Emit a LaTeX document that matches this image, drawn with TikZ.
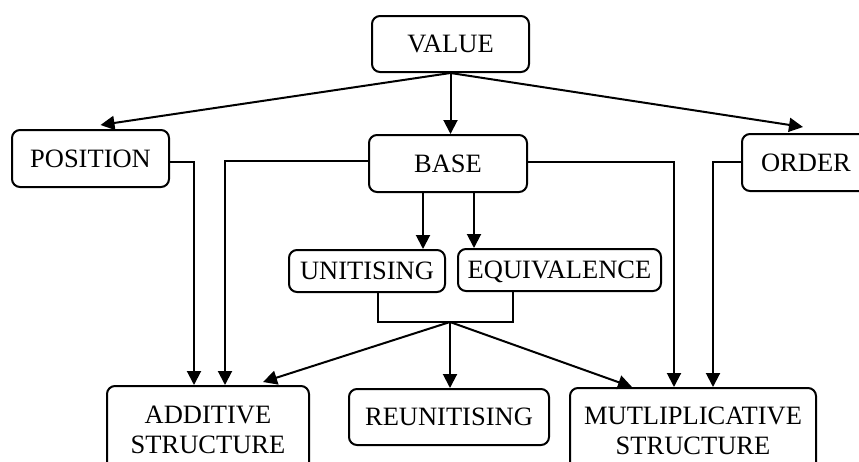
\documentclass[tikz,border=0pt]{standalone}
\usepackage{fontspec}
\setmainfont{Liberation Serif}
\usetikzlibrary{arrows.meta,positioning}
\tikzset{
  concept/.style={draw,line width=2pt,rounded corners=8pt,inner sep=0pt,align=center,font=\fontsize{26.5}{30}\selectfont},
  link/.style={line width=2pt},
  arr/.style={link,-{Triangle[length=14pt,width=14pt]}}
}
\begin{document}
\begin{tikzpicture}[x=1pt,y=-1pt]
\useasboundingbox (0,0) rectangle (859,461);
\clip (0,0) rectangle (859,461);
% boxes
\node[concept,minimum width=157pt,minimum height=56pt] (value) at (450.5,44) {VALUE};
\node[concept,minimum width=157pt,minimum height=57pt] (position) at (90.5,158.5) {POSITION};
\node[concept,minimum width=158pt,minimum height=57pt] (base) at (448,163.5) {BASE};
\node[concept,minimum width=128pt,minimum height=57pt] (order) at (806,162.5) {ORDER};
\node[concept,minimum width=156pt,minimum height=42pt] (unit) at (367,271) {UNITISING};
\node[concept,minimum width=203pt,minimum height=42pt,text depth=0pt] (equiv) at (559.5,270) {EQUIVALENCE};
\node[concept,minimum width=202pt,minimum height=88pt] (add) at (208,430) {ADDITIVE\\STRUCTURE};
\node[concept,minimum width=200pt,minimum height=56pt] (reunit) at (449,417) {REUNITISING};
\node[concept,minimum width=246pt,minimum height=86pt] (mult) at (693,431) {MUTLIPLICATIVE\\STRUCTURE};
\coordinate (join) at (450,322);
% arrows from value
\draw[arr] (value.south) -- ([xshift=10pt,yshift=4pt]position.north);
\draw[arr] (value.south) -- (value.south |- base.north);
\draw[arr] (value.south) -- ([xshift=-3pt,yshift=6pt]order.north);
% side lines down to the structures
\draw[arr] ([yshift=-3pt]position.east) -| ([xshift=-14pt]add.north);
\draw[arr] ([yshift=3pt]base.west) -| ([xshift=17pt]add.north);
\draw[arr] ([yshift=2pt]base.east) -| ([xshift=-19pt]mult.north);
\draw[arr] ([yshift=1pt]order.west) -| ([xshift=20pt]mult.north);
% base to unitising and equivalence
\draw[arr] ([xshift=-25pt]base.south) -- ([xshift=-25pt]base.south |- unit.north);
\draw[arr] ([xshift=26pt]base.south) -- ([xshift=26pt]base.south |- equiv.north);
% bracket and its three arrows
\draw[link] ([xshift=11pt]unit.south) |- (join) -| ([xshift=-47pt]equiv.south);
\draw[arr] (join) -- ([xshift=55pt,yshift=3pt]add.north);
\draw[arr] (join) -- (join |- reunit.north);
\draw[arr] (join) -- ([xshift=-61pt]mult.north);
\end{tikzpicture}
\end{document}
